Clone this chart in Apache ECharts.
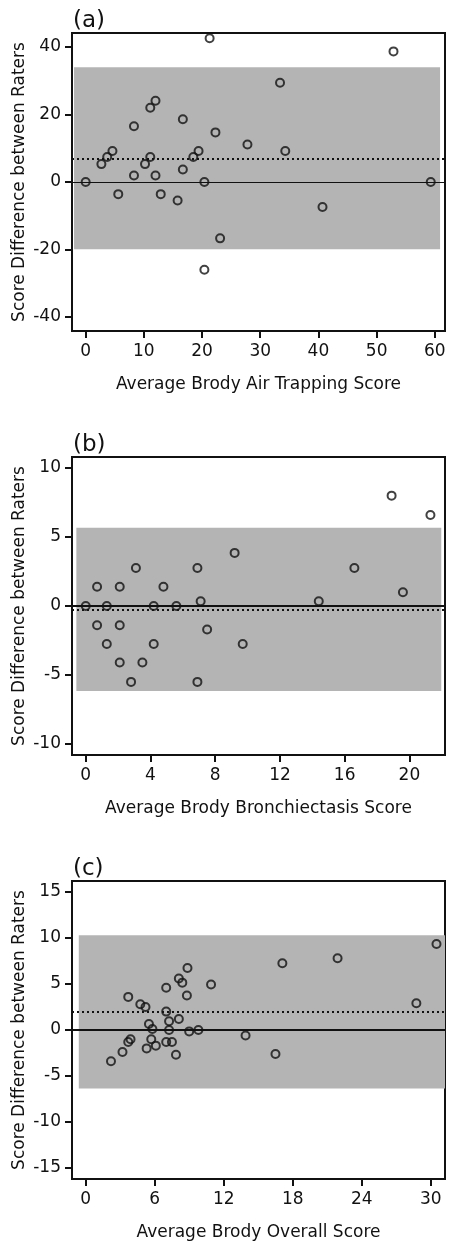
<!DOCTYPE html>
<html>
<head>
<meta charset="utf-8">
<script src="https://cdn.jsdelivr.net/npm/echarts@6/dist/echarts.min.js"></script>
<style>
html,body{margin:0;padding:0;background:#fff;}
#chart{width:449px;height:1245px;}
</style>
</head>
<body>
<div id="chart"></div>
<script>
// ---- Data ----
const panelLabels = ['(a)', '(b)', '(c)'];
const xTitles = ['Average Brody Air Trapping Score', 'Average Brody Bronchiectasis Score', 'Average Brody Overall Score'];
const yTitle = 'Score Difference between Raters';

const airAvg  = [0, 2.7, 3.7, 4.6, 5.6, 8.3, 8.3, 10.2, 11.1, 11.1, 12.0, 12.0, 12.9, 15.8, 16.7, 16.7, 18.5, 19.4, 20.4, 20.4, 21.3, 22.3, 23.1, 27.8, 33.4, 34.3, 40.7, 52.9, 59.3];
const airDiff = [0, 5.3, 7.4, 9.2, -3.6, 16.5, 1.9, 5.3, 7.4, 22.0, 24.1, 1.9, -3.6, -5.5, 18.6, 3.7, 7.4, 9.2, 0, -26.0, 42.6, 14.7, -16.7, 11.1, 29.4, 9.2, -7.4, 38.7, 0];

const bronchAvg  = [0, 0.7, 0.7, 1.3, 1.3, 2.1, 2.1, 2.1, 2.8, 3.1, 3.5, 4.2, 4.2, 4.8, 5.6, 6.9, 6.9, 7.1, 7.5, 9.2, 9.7, 14.4, 16.6, 18.9, 19.6, 21.3];
const bronchDiff = [0, 1.4, -1.4, 0, -2.75, 1.4, -1.4, -4.1, -5.5, 2.75, -4.1, 0, -2.75, 1.4, 0, 2.75, -5.5, 0.35, -1.7, 3.85, -2.75, 0.35, 2.75, 8.0, 1.0, 6.6];

const overallAvg  = [2.2, 3.2, 3.7, 3.7, 3.9, 4.75, 5.2, 5.3, 5.5, 5.7, 5.8, 6.1, 7.0, 7.0, 7.0, 7.25, 7.25, 7.5, 7.85, 8.1, 8.1, 8.4, 8.8, 8.85, 9.0, 9.8, 10.9, 13.9, 16.5, 17.1, 21.9, 28.75, 30.5];
const overallDiff = [-3.4, -2.4, 3.6, -1.3, -1.0, 2.8, 2.5, -2.0, 0.65, -1.0, 0.1, -1.7, 4.6, 2.0, -1.3, 0.95, 0, -1.3, -2.7, 1.2, 5.6, 5.15, 3.75, 6.75, -0.15, 0, 4.95, -0.6, -2.6, 7.25, 7.8, 2.9, 9.35];

// Bland-Altman summary values: mean difference and limits of agreement
const meanDiff = [6.8, -0.24, 1.96];
const upperLoA = [34.0, 5.68, 10.3];
const lowerLoA = [-19.9, -6.17, -6.35];
const bandXStart = [-2.0, -0.58, -0.6];
const bandXEnd = [60.9, 21.97, 31.24];

// Axis extents and tick labels
const xMin = [-2.35, -0.85, -1.19];
const xMax = [61.75, 22.2, 31.24];
const yLim = [44.15, 10.8, 16.2];
const xTicks = [[0, 10, 20, 30, 40, 50, 60], [0, 4, 8, 12, 16, 20], [0, 6, 12, 18, 24, 30]];
const yTicks = [[-40, -20, 0, 20, 40], [-10, -5, 0, 5, 10], [-15, -10, -5, 0, 5, 10, 15]];

const xs = [airAvg, bronchAvg, overallAvg];
const ys = [airDiff, bronchDiff, overallDiff];

// ---- Layout ----
const gridTops = [33, 457, 881];
const gridH = 298;
const labelTops = [5, 429, 853];
const zeroW = [1, 2, 2];
const FONT = 'DejaVu Sans, sans-serif';

const chart = echarts.init(document.getElementById('chart'), null, {renderer: 'canvas'});

const axisLine = {show: true, onZero: false, lineStyle: {color: '#111', width: 2}};

const option = {
  animation: false,
  backgroundColor: '#fff',
  textStyle: {fontFamily: FONT},
  title: panelLabels.map((t, i) => ({
    text: t, left: 68, top: labelTops[i],
    textStyle: {fontSize: 23, fontWeight: 'normal', color: '#111', fontFamily: FONT}
  })),
  grid: gridTops.map(t => ({
    left: 72, right: 4, top: t, height: gridH,
    containLabel: false, outerBoundsMode: 'none',
    show: true, borderColor: '#111', borderWidth: 2, backgroundColor: 'transparent'
  })),
  xAxis: [0, 1, 2].map(i => ({
    type: 'value', gridIndex: i, min: xMin[i], max: xMax[i],
    name: xTitles[i], nameLocation: 'middle', nameGap: 45, nameMoveOverlap: false,
    nameTextStyle: {fontSize: 17, color: '#111', fontFamily: FONT},
    axisLine: axisLine,
    axisTick: {show: true, inside: false, length: 7, lineStyle: {color: '#111', width: 2}, customValues: xTicks[i]},
    axisLabel: {show: true, margin: 12, fontSize: 17, color: '#111', fontFamily: FONT, customValues: xTicks[i]},
    splitLine: {show: false}
  })),
  yAxis: [0, 1, 2].map(i => ({
    type: 'value', gridIndex: i, min: -yLim[i], max: yLim[i],
    name: yTitle, nameLocation: 'middle', nameGap: 44, nameMoveOverlap: false,
    nameTextStyle: {fontSize: 17, color: '#111', fontFamily: FONT},
    axisLine: axisLine,
    axisTick: {show: true, inside: false, length: 7, lineStyle: {color: '#111', width: 2}, customValues: yTicks[i]},
    axisLabel: {show: true, margin: 11, fontSize: 17, color: '#111', fontFamily: FONT, customValues: yTicks[i]},
    splitLine: {show: false}
  })),
  series: [0, 1, 2].map(i => ({
    type: 'scatter', xAxisIndex: i, yAxisIndex: i,
    data: xs[i].map((x, k) => [x, ys[i][k]]),
    symbol: 'circle', symbolSize: 8,
    itemStyle: {color: 'rgba(0,0,0,0)', borderColor: '#111', borderWidth: 2},
    z: 5,
    markArea: {
      silent: true,
      itemStyle: {color: '#b4b4b4'},
      data: [[{coord: [bandXStart[i], upperLoA[i]]}, {coord: [bandXEnd[i], lowerLoA[i]]}]]
    },
    markLine: {
      silent: true, symbol: 'none', label: {show: false},
      data: [
        {yAxis: 0, lineStyle: {type: 'solid', color: '#111', width: zeroW[i]}},
        {yAxis: meanDiff[i], lineStyle: {type: [2, 3], color: '#111', width: 2}}
      ]
    }
  }))
};
chart.setOption(option);
</script>
</body>
</html>
